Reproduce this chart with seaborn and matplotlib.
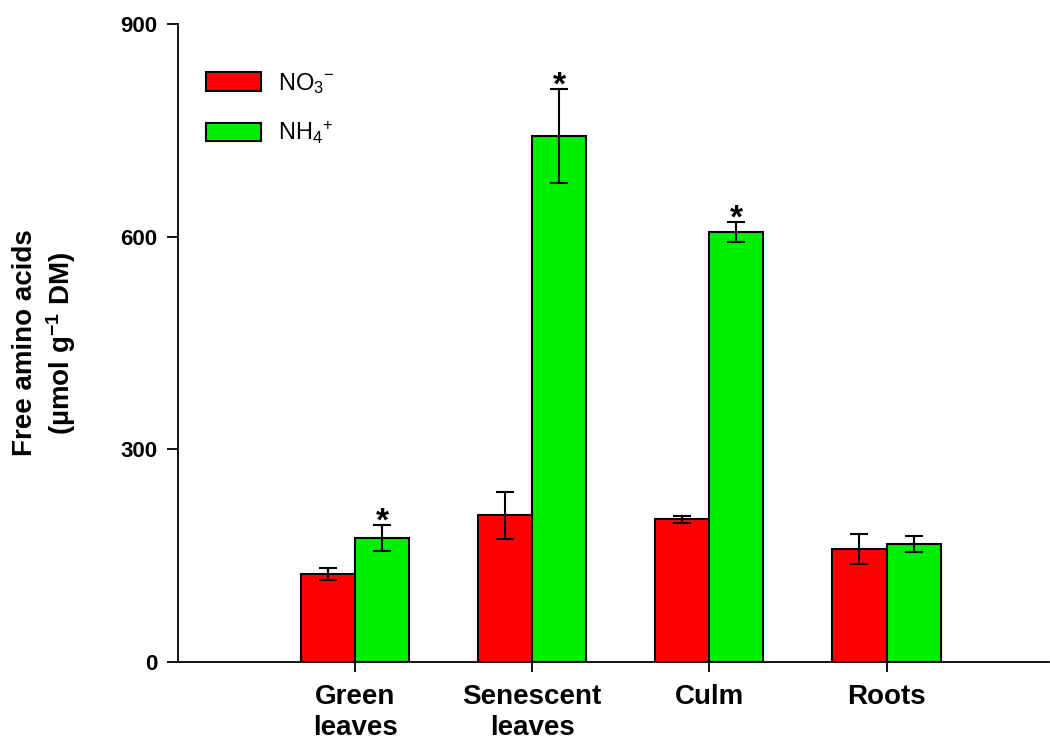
import numpy as np
import pandas as pd
import matplotlib
matplotlib.use("Agg")
import matplotlib.pyplot as plt
import seaborn as sns

tissues = ["Green\nleaves", "Senescent\nleaves", "Culm", "Roots"]
treatments = ["NO3", "NH4"]
no3_mean = [124, 207, 201, 159]
no3_se = [8, 33, 5, 21]
nh4_mean = [175, 742, 607, 166]
nh4_se = [18, 66, 14, 11]
significant = [True, True, True, False]

sns.set_theme(style="white")
plt.rcParams["font.family"] = ["Liberation Sans", "DejaVu Sans"]
plt.rcParams["mathtext.fontset"] = "custom"
plt.rcParams["mathtext.rm"] = "Liberation Sans"
plt.rcParams["mathtext.it"] = "Liberation Sans"
plt.rcParams["mathtext.bf"] = "Liberation Sans:bold"
plt.rcParams["text.color"] = "black"
plt.rcParams["axes.labelcolor"] = "black"
plt.rcParams["xtick.color"] = "black"
plt.rcParams["ytick.color"] = "black"

df = pd.DataFrame({
    "tissue": tissues * 2,
    "treatment": ["NO3"] * 4 + ["NH4"] * 4,
    "value": no3_mean + nh4_mean,
    "se": no3_se + nh4_se,
})

fig = plt.figure(figsize=(10.5, 7.48), dpi=100)
ax = fig.add_axes([0.1695, 0.115, 0.83, 0.853])

palette = {"NO3": "#ff0000", "NH4": "#00ee00"}
sns.barplot(data=df, x="tissue", y="value", hue="treatment", hue_order=treatments,
            order=tissues, palette=palette, width=0.61, gap=0, edgecolor="black",
            linewidth=1.5, saturation=1, errorbar=None, ax=ax)

# error bars and significance marks at the bar centres
for container, treat in zip(ax.containers, treatments):
    sub = df[df.treatment == treat].set_index("tissue").loc[tissues]
    for i, patch in enumerate(container.patches):
        xc = patch.get_x() + patch.get_width() / 2
        m = sub["value"].iloc[i]
        e = sub["se"].iloc[i]
        ax.errorbar(xc, m, yerr=e, color="black", capsize=6.5, elinewidth=1.5,
                    capthick=1.5, zorder=5)
        if treat == "NH4" and significant[i]:
            ax.annotate("*", xy=(xc, m + e), xytext=(0, -4), textcoords="offset points",
                        ha="center", va="baseline", fontsize=24, fontweight="bold",
                        color="black")

ax.set_xlim(-1.0, 3.92)
ax.set_ylim(0, 900)
ax.set_yticks([0, 300, 600, 900])
ax.set_xlabel("")
ax.set_ylabel("Free amino acids\n(µmol g$^{\\mathbf{-1}}$ DM)", fontsize=20,
              fontweight="bold", labelpad=30, linespacing=1.25)
ax.tick_params(axis="y", labelsize=16, length=8, width=1.3, direction="out", left=True, pad=7)
ax.tick_params(axis="x", labelsize=20, length=7, width=1.3, direction="out", bottom=True, pad=9)
for lab in ax.get_yticklabels():
    lab.set_fontweight("bold")
for lab in ax.get_xticklabels():
    lab.set_fontweight("bold")
    lab.set_linespacing(1.22)
for s in ["top", "right"]:
    ax.spines[s].set_visible(False)
for s in ["left", "bottom"]:
    ax.spines[s].set_color("black")
    ax.spines[s].set_linewidth(1.3)

handles, _ = ax.get_legend_handles_labels()
ax.legend(handles, ["NO$_3$$^{-}$", "NH$_4$$^{+}$"], loc="upper left",
          bbox_to_anchor=(0.0075, 0.96), frameon=False, fontsize=17,
          handlelength=2.35, handleheight=0.85, labelspacing=1.0, handletextpad=0.7)

fig.savefig("out.png", dpi=100)
